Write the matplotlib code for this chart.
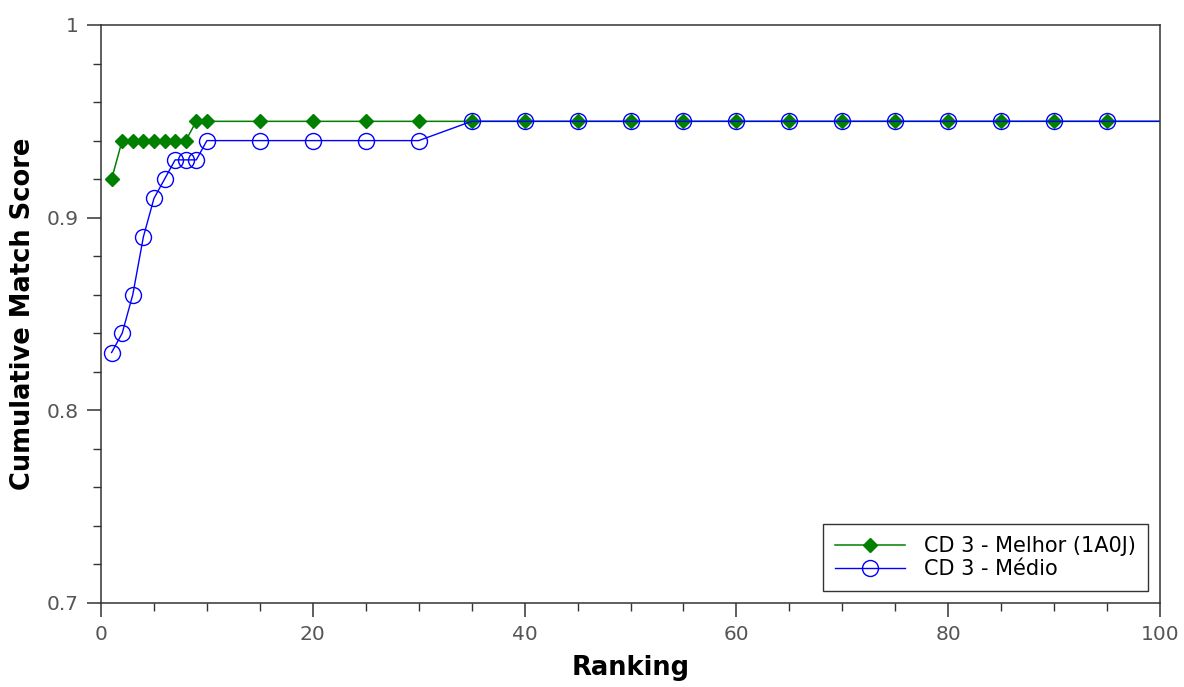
import matplotlib
matplotlib.use("Agg")
import matplotlib.pyplot as plt
from matplotlib.ticker import MultipleLocator

# Rank positions and cumulative match scores
rank_best = [1, 2, 3, 4, 5, 6, 7, 8, 9, 10, 15, 20, 25, 30, 35, 40, 45, 50,
             55, 60, 65, 70, 75, 80, 85, 90, 95, 100]
score_best = [0.92, 0.94, 0.94, 0.94, 0.94, 0.94, 0.94, 0.94, 0.95, 0.95,
              0.95, 0.95, 0.95, 0.95, 0.95, 0.95, 0.95, 0.95, 0.95, 0.95,
              0.95, 0.95, 0.95, 0.95, 0.95, 0.95, 0.95, 0.95]

rank_mean = [1, 2, 3, 4, 5, 6, 7, 8, 9, 10, 15, 20, 25, 30, 35, 40, 45, 50,
             55, 60, 65, 70, 75, 80, 85, 90, 95, 100]
score_mean = [0.83, 0.84, 0.86, 0.89, 0.91, 0.92, 0.93, 0.93, 0.93, 0.94,
              0.94, 0.94, 0.94, 0.94, 0.95, 0.95, 0.95, 0.95, 0.95, 0.95,
              0.95, 0.95, 0.95, 0.95, 0.95, 0.95, 0.95, 0.95]

labels = ["CD 3 - Melhor (1A0J)", "CD 3 - Médio"]

fig = plt.figure(figsize=(11.84, 6.87), dpi=100)
ax = fig.add_axes([101 / 1184, 1 - 603 / 687, (1160 - 101) / 1184, (603 - 25) / 687])

ax.plot(rank_best, score_best, color="#008000", lw=1.1, marker="D",
        markersize=7, markevery=slice(0, -1), label=labels[0])
ax.plot(rank_mean, score_mean, color="#0000ff", lw=1.0, marker="o",
        markersize=11.5, markerfacecolor="none", markeredgewidth=1.0,
        markevery=slice(0, -1), label=labels[1])

ax.set_xlim(0, 100)
ax.set_ylim(0.7, 1.0)
ax.xaxis.set_major_locator(MultipleLocator(20))
ax.xaxis.set_minor_locator(MultipleLocator(5))
ax.yaxis.set_major_locator(MultipleLocator(0.1))
ax.yaxis.set_minor_locator(MultipleLocator(0.02))
ax.yaxis.set_major_formatter(plt.FuncFormatter(lambda v, p: f"{v:g}"))

ax.tick_params(axis="both", which="major", direction="out", length=10,
               width=1.1, labelsize=14.5, labelcolor="#555555", pad=6,
               color="#333333")
ax.tick_params(axis="both", which="minor", direction="out", length=6,
               width=1.0, color="#333333")
for s in ax.spines.values():
    s.set_linewidth(1.1)
    s.set_color("#333333")

ax.set_xlabel("Ranking", fontsize=18.5, fontweight="bold", labelpad=8)
ax.set_ylabel("Cumulative Match Score", fontsize=18.5, fontweight="bold",
              labelpad=8)

leg = ax.legend(loc="lower right", fontsize=15,
                fancybox=False, edgecolor="#333333", framealpha=1,
                handlelength=3.4, borderpad=0.55, labelspacing=0.15,
                handletextpad=0.9, borderaxespad=0.6)
leg.get_frame().set_linewidth(1.0)

fig.savefig("out.png", dpi=100)
